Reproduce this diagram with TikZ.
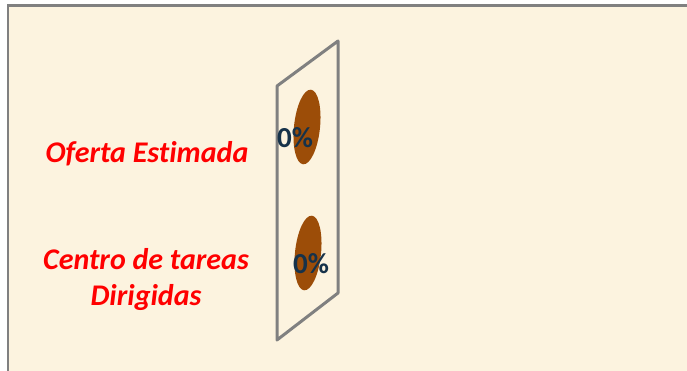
\documentclass[tikz,border=0pt]{standalone}
\usepackage{fontspec}
\setmainfont[Ligatures = NoCommon]{Carlito}
\usepackage{tikz}
\usetikzlibrary{positioning}
\definecolor{parchment}{RGB}{252,243,223}
\definecolor{pielbrown}{RGB}{156,77,8}
\definecolor{pctnavy}{RGB}{22,50,74}
\tikzset{lbl/.style = {text = red, font = \bfseries\itshape\fontsize{30}{36}\selectfont, align = center, inner sep = 0},
         pct/.style = {text = pctnavy, font = \bfseries\fontsize{29}{30}\selectfont, inner sep = 0},
         slice/.style = {fill = pielbrown, draw = none}}

\begin{document}
\begin{tikzpicture}[x = 1pt, y = -1pt]

    \useasboundingbox (0, 0) rectangle (687, 371);
    \fill [white] (0, 0) rectangle (687, 371);
    \fill [parchment] (8, 6) rectangle (687, 371);
    \draw [gray, line width = 2.2pt] (8, 371) -- (8, 5.5) -- (687, 5.5);

    \coordinate (tl) at (277, 86);
    \coordinate (tr) at (338, 41);
    \coordinate (br) at (338, 293);
    \coordinate (bl) at (277, 340);
    \draw [gray, line width = 3pt, line join = round] (tl) -- (tr) -- (br) -- (bl) -- cycle;

    \fill [slice, rotate around = {-6:(307, 127)}] (307, 127) ellipse (13 and 37.5);
    \fill [slice, rotate around = {-6:(308, 253)}] (308, 253) ellipse (13 and 37.5);

    \node [pct] (p1) at (295, 138) {0\%};
    \node [pct] (p2) at (311, 264) {0\%};

    \node [lbl] (oferta) at (147, 154) {Oferta Estimada};
    \node [lbl] (centro) at (146, 280) {Centro de tareas\\Dirigidas};
  \end{tikzpicture}
\end{document}
